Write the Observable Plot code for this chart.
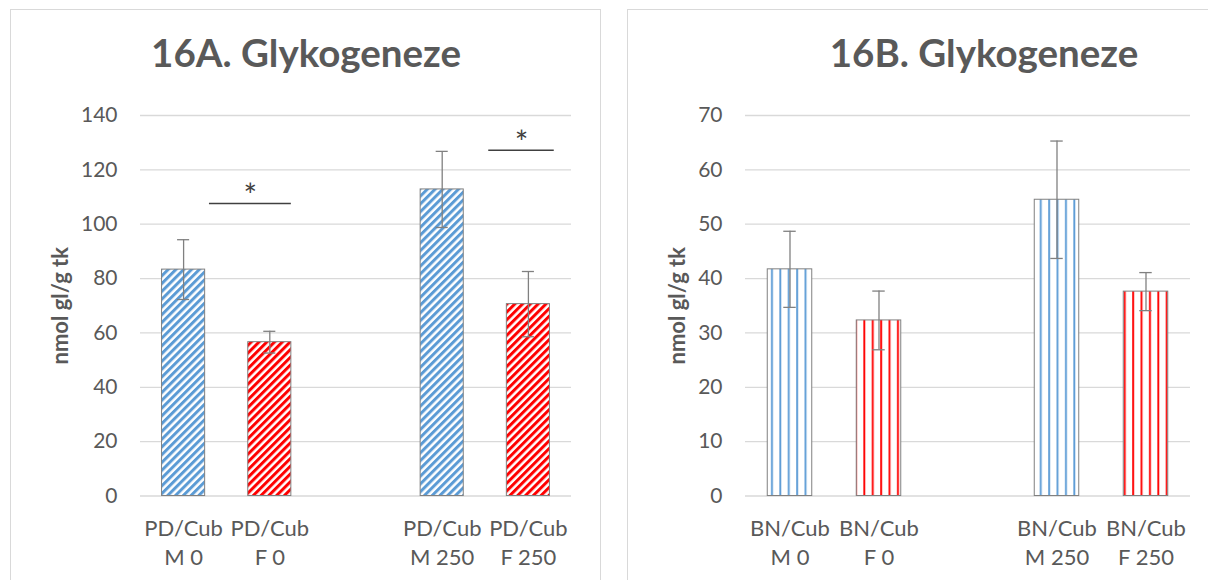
<!DOCTYPE html>
<html><head><meta charset="utf-8">
<script src="https://cdn.jsdelivr.net/npm/d3@7"></script>
<script src="https://cdn.jsdelivr.net/npm/@observablehq/plot@0.6"></script>
<style>
body{margin:0;background:#fff;}
#wrap{position:relative;width:1208px;height:580px;overflow:hidden;font-family:Lato,sans-serif;}
.panel{position:absolute;border:1px solid #d9d9d9;background:#fff;}
.title{position:absolute;font-weight:bold;color:#595959;text-align:center;white-space:nowrap;line-height:1;}
.chart{position:absolute;top:0;}
</style></head><body>
<div id="wrap">
 <div class="panel" style="left:10px;top:9px;width:589px;height:620px"></div>
 <div class="panel" style="left:627px;top:9px;width:700px;height:620px"></div>
 <div class="chart" id="cA" style="left:0px"></div>
 <div class="chart" id="cB" style="left:600px"></div>
 <div class="title" id="tA" style="left:6px;top:33px;width:600px;font-size:38.5px"></div>
 <div class="title" id="tB" style="left:684px;top:33px;width:600px;font-size:38.5px"></div>
</div>
<script>
const titles = ["16A. Glykogeneze", "16B. Glykogeneze"];
const yLabel = "nmol gl/g tk";
const categoriesA = ["PD/Cub\nM 0", "PD/Cub\nF 0", "PD/Cub\nM 250", "PD/Cub\nF 250"];
const categoriesB = ["BN/Cub\nM 0", "BN/Cub\nF 0", "BN/Cub\nM 250", "BN/Cub\nF 250"];
const slots = [0, 1, 3, 4];          // category slot (slot 2 is an empty category)
const sexes = ["M", "F", "M", "F"];
const valuesA = [83.3, 56.6, 112.8, 70.6];
const errorsA = [11, 4, 14, 12];
const valuesB = [41.7, 32.3, 54.5, 37.6];
const errorsB = [7, 5.4, 10.8, 3.5];
const ticksA = [0, 20, 40, 60, 80, 100, 120, 140];
const ticksB = [0, 10, 20, 30, 40, 50, 60, 70];
// significance brackets (x in category-slot units, y in data units)
const sigX1A = [0.80, 4.04];
const sigX2A = [1.75, 4.80];
const sigYA = [107.6, 127.2];
const sigTextA = ["*", "*"];

const BLUE = "#5B9BD5", RED = "#FF0000", GRAY = "#595959";

function makeDefs(id, kind) {
  return () => {
    const g = d3.create("svg:defs");
    [["M", BLUE], ["F", RED]].forEach(([s, col]) => {
      let p;
      if (kind === "diag") {
        p = g.append("pattern").attr("id", id + s).attr("patternUnits", "userSpaceOnUse")
          .attr("width", 5.5).attr("height", 5.5).attr("patternTransform", "rotate(45)");
        p.append("rect").attr("width", 5.5).attr("height", 5.5).attr("fill", "white");
        p.append("rect").attr("width", 3).attr("height", 5.5).attr("fill", col);
      } else {
        p = g.append("pattern").attr("id", id + s).attr("patternUnits", "userSpaceOnUse")
          .attr("width", 8.4).attr("height", 10);
        p.append("rect").attr("width", 8.4).attr("height", 10).attr("fill", "white");
        p.append("rect").attr("x", 3).attr("width", 1.9).attr("height", 10).attr("fill", col);
      }
    });
    return g.node();
  };
}

function chart({cats, vals, errs, ticks, width, ml, mr, labelDx, id, kind, sig}) {
  const data = cats.map((c, i) => ({cat: c, pos: slots[i] + 0.5, v: vals[i], e: errs[i], sex: sexes[i]}));
  const marks = [
    makeDefs(id, kind),
    Plot.ruleY(ticks, {stroke: "#d9d9d9", strokeWidth: 1.3}),
    ...["M", "F"].map(s => Plot.rect(data.filter(d => d.sex === s), {
      x1: d => d.pos - 0.25, x2: d => d.pos + 0.25, y1: 0, y2: "v",
      fill: `url(#${id}${s})`, stroke: "#808080", strokeWidth: 1
    })),
    Plot.ruleX(data, {x: "pos", y1: d => d.v - d.e, y2: d => d.v + d.e, stroke: "#808080", strokeWidth: 1.3}),
    Plot.ruleY(data, {y: d => d.v + d.e, x1: d => d.pos - 0.07, x2: d => d.pos + 0.07, stroke: "#808080", strokeWidth: 1.3}),
    Plot.ruleY(data, {y: d => d.v - d.e, x1: d => d.pos - 0.07, x2: d => d.pos + 0.07, stroke: "#808080", strokeWidth: 1.3}),
    Plot.axisY({ticks, label: null, tickSize: 0, tickPadding: 23, fontSize: 21, fill: GRAY}),
    Plot.text(data, {x: "pos", text: "cat", frameAnchor: "bottom", lineAnchor: "top", dy: 20, lineHeight: 1.3, fontSize: 22, fill: GRAY}),
    Plot.text([yLabel], {frameAnchor: "left", rotate: -90, dx: labelDx, textAnchor: "middle", fontWeight: "bold", fontSize: 22, fill: GRAY})
  ];
  if (sig) {
    const sd = sig.x1.map((x, i) => ({x1: x, x2: sig.x2[i], y: sig.y[i], t: sig.t[i]}));
    marks.push(Plot.ruleY(sd, {y: "y", x1: "x1", x2: "x2", stroke: "#404040", strokeWidth: 1.5}));
    marks.push(Plot.text(sd, {x: d => (d.x1 + d.x2) / 2, y: "y", text: "t", dy: -7, fontSize: 32, fill: "#404040"}));
  }
  return Plot.plot({
    width, height: 580,
    marginLeft: ml, marginRight: mr, marginTop: 115, marginBottom: 84.5,
    x: {domain: [0, 5], axis: null},
    y: {domain: [0, ticks[ticks.length - 1]], axis: null},
    style: {background: "transparent", overflow: "visible", color: GRAY, fontFamily: "Lato, sans-serif", fontSize: "19px"},
    marks
  });
}

document.getElementById("tA").textContent = titles[0];
document.getElementById("tB").textContent = titles[1];
document.getElementById("cA").appendChild(chart({
  cats: categoriesA, vals: valuesA, errs: errorsA, ticks: ticksA, width: 600, ml: 140, mr: 29,
  labelDx: -80, id: "pA", kind: "diag",
  sig: {x1: sigX1A, x2: sigX2A, y: sigYA, t: sigTextA}
}));
document.getElementById("cB").appendChild(chart({
  cats: categoriesB, vals: valuesB, errs: errorsB, ticks: ticksB, width: 608, ml: 145, mr: 18,
  labelDx: -68, id: "pB", kind: "vert"
}));
</script>
</body></html>
